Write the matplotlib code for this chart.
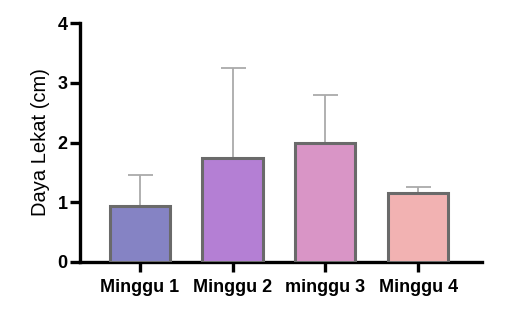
import matplotlib
matplotlib.use("Agg")
import matplotlib.pyplot as plt

categories = ["Minggu 1", "Minggu 2", "minggu 3", "Minggu 4"]
means = [0.94, 1.74, 1.99, 1.16]
errors = [0.52, 1.51, 0.81, 0.10]
colors = ["#8583C4", "#B47FD4", "#D995C6", "#F2B2B2"]

plt.rcParams['font.family'] = ['Liberation Sans', 'DejaVu Sans']
fig = plt.figure(figsize=(5.28, 3.25), dpi=100)
ax = fig.add_axes([0.1515, 0.194, 0.7615, 0.735])

x = list(range(len(categories)))
ax.bar(x, means, width=0.65, color=colors, edgecolor="#6a6a6a", linewidth=2.2, zorder=3)
ax.errorbar(x, means, yerr=[[0]*len(errors), errors], fmt="none", ecolor="#aaaaaa",
            elinewidth=1.3, capsize=9, capthick=1.3, zorder=2)

ax.set_xlim(-0.645, 3.69)
ax.set_ylim(0, 4)
ax.set_yticks([0, 1, 2, 3, 4])
ax.set_xticks(x)
ax.set_xticklabels(categories, fontsize=13, fontweight="bold")
for lab in ax.get_yticklabels():
    lab.set_fontweight("bold")
    lab.set_fontsize(13)
ax.set_ylabel("Daya Lekat (cm)", fontsize=14.5, labelpad=5)

for s in ["top", "right"]:
    ax.spines[s].set_visible(False)
for s in ["left", "bottom"]:
    ax.spines[s].set_linewidth(2.4)
ax.tick_params(axis="both", width=2.4, length=7)
ax.tick_params(axis="y", pad=2)
ax.tick_params(axis="x", pad=5)

fig.savefig("out.png", dpi=100)
